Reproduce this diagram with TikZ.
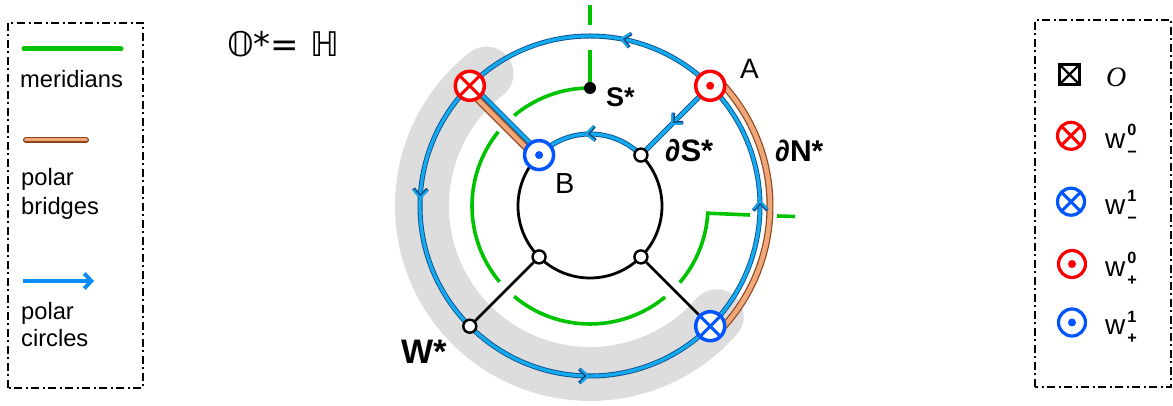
\documentclass[tikz,border=0pt]{standalone}
\usepackage{fontspec}
\setmainfont{Liberation Sans}
\newfontfamily\djv{DejaVu Sans}
\newfontfamily\lserif{Liberation Serif}
\usetikzlibrary{arrows.meta,decorations.markings}
\pgfdeclarelayer{back}
\pgfdeclarelayer{bg}
\pgfsetlayers{back,bg,main}
\definecolor{pcblue}{RGB}{20,170,240}
\definecolor{pcdark}{RGB}{15,75,135}
\definecolor{legblue}{RGB}{10,140,250}
\definecolor{mgreen}{RGB}{0,195,0}
\definecolor{brfill}{RGB}{240,168,120}
\definecolor{brdark}{RGB}{140,70,30}
\definecolor{nred}{RGB}{255,0,0}
\definecolor{nblue}{RGB}{0,85,255}
\definecolor{bandgray}{RGB}{221,221,221}
\newcommand\pctip{\arrow[pcdark,line width=3.6pt]{Straight Barb[length=8pt,width=14pt]}\arrow[pcblue,line width=2pt]{Straight Barb[length=8pt,width=14pt]}}
\newcommand\wlab[2]{w\kern2pt\rlap{\raisebox{12.7pt}{\fontsize{16.3}{16}\selectfont\bfseries #1}}\raisebox{-9pt}{\fontsize{16.3}{16}\selectfont\bfseries #2}}
\tikzset{
  pcout/.style={draw=pcdark, line width=5pt},
  pcin/.style={draw=pcblue, line width=3.3pt},
  pctips/.style={postaction={decorate, decoration={markings, mark=at position #1 with {\pctip}}}},
  brout/.style={draw=brdark, line width=7pt},
  brin/.style={draw=brfill, line width=4.6pt},
  merid/.style={draw=mgreen, line width=3.6pt},
  blk/.style={draw=black, line width=2.8pt},
  xsym/.style={circle, draw=#1, fill=white, line width=3.2pt, minimum size=27pt, inner sep=0pt,
    path picture={\draw[#1, line width=3pt]
      ([shift={(45:20pt)}]path picture bounding box.center) -- ([shift={(225:20pt)}]path picture bounding box.center)
      ([shift={(135:20pt)}]path picture bounding box.center) -- ([shift={(315:20pt)}]path picture bounding box.center);}},
  osym/.style={circle, draw=#1, fill=white, line width=3.2pt, minimum size=27pt, inner sep=0pt,
    path picture={\fill[#1] (path picture bounding box.center) circle[radius=4pt];}},
  big/.style={minimum size=29pt, line width=3.5pt},
  jn/.style={circle, draw=black, fill=white, line width=2.4pt, minimum size=13pt, inner sep=0pt},
  sdot/.style={circle, fill=black, minimum size=12pt, inner sep=0pt},
  boxx/.style={rectangle, draw=black, line width=2.6pt, minimum size=20.5pt, inner sep=0pt,
    path picture={\draw[line width=2.2pt] (path picture bounding box.north west) -- (path picture bounding box.south east)
      (path picture bounding box.north east) -- (path picture bounding box.south west);}},
  lbl/.style={font=\fontsize{23.7}{28.4}\selectfont, inner sep=0pt, align=left, anchor=north west},
  dlbl/.style={inner sep=0pt, anchor=base west},
  frame/.style={draw=black, line width=1.8pt, dash pattern=on 8pt off 3.5pt on 2pt off 3.5pt},
}
\begin{document}
\begin{tikzpicture}[x=1pt,y=1pt]
\useasboundingbox (0,0) rectangle (1173,406);
% ---------------- left legend
\draw[frame] (8,18) rectangle (143,383);
\coordinate (lg1) at (24,357); \coordinate (lg2) at (121,357);
\draw[mgreen, line width=5pt, line cap=round] (lg1) -- (lg2);
\node[lbl] (tmer) at (20,336) {meridians};
\coordinate (lb1) at (26,266.3); \coordinate (lb2) at (86,266.3);
\draw[draw=brdark, line width=6pt, line cap=round] (lb1) -- (lb2);
\draw[draw=brfill, line width=3.6pt, line cap=round] (lb1) -- (lb2);
\node[lbl] (tbr) at (21,237.7) {polar\\bridges};
\coordinate (la1) at (23,125); \coordinate (la2) at (94,125);
\draw[legblue, line width=4pt, -{Straight Barb[length=7pt,width=15pt]}] (la1) -- (la2);
\node[lbl] (tci) at (21,104) {polar\\[-1.7pt]circles};
% ---------------- formula
\node[inner sep=0pt] (eq) at (283,362) {\djv\fontsize{34}{36}\selectfont 𝕆*= ℍ};
% ---------------- right legend
\draw[frame] (1035,19) rectangle (1171,386);
\node[boxx] (lO) at (1069.5,331.5) {};
\node[dlbl] (tO) at (1106,319.5) {\lserif\itshape\fontsize{28}{30}\selectfont O};
\node[xsym=nred] (lwm0) at (1071,270.2) {};
\node[dlbl, font=\fontsize{28}{30}\selectfont] (twm0) at (1105,257.7) {\wlab{0}{−}};
\node[xsym=nblue] (lwm1) at (1071,204.3) {};
\node[dlbl, font=\fontsize{28}{30}\selectfont] (twm1) at (1105,191.8) {\wlab{1}{−}};
\node[osym=nred] (lwp0) at (1072,142) {};
\node[dlbl, font=\fontsize{28}{30}\selectfont] (twp0) at (1105,129.5) {\wlab{0}{+}};
\node[osym=nblue] (lwp1) at (1072,83.5) {};
\node[dlbl, font=\fontsize{28}{30}\selectfont] (twp1) at (1105,71) {\wlab{1}{+}};
% ---------------- main diagram
\begin{scope}[shift={(590,200)}]
  \coordinate (O) at (0,0);
  \node[xsym=nred, big] (Wm0) at (135:170) {};
  \node[osym=nred, big] (A) at (45:170) {};
  \node[xsym=nblue, big] (Wm1) at (315:170) {};
  \node[osym=nblue, big] (B) at (135:72) {};
  \node[jn] (dS) at (45:72) {};
  \node[jn] (J3) at (225:72) {};
  \node[jn] (J4) at (315:72) {};
  \node[jn] (W) at (225:170) {};
  \node[sdot] (S) at (90:118) {};
  \coordinate (gt1) at (0,156); \coordinate (gt2) at (0,181); \coordinate (gt3) at (0,201);
  \coordinate (gr1) at (160,-9); \coordinate (gr2) at (187,-10); \coordinate (gr3) at (205,-10.5);
  \begin{pgfonlayer}{back}
    \draw[draw=bandgray, line width=54pt, line cap=round] (128:168) arc[start angle=128, end angle=319, radius=168];
  \end{pgfonlayer}
  \begin{pgfonlayer}{bg}
    % meridians
    \draw[merid] (S.center) -- (gt1);
    \draw[merid] (gt2) -- (gt3);
    \draw[merid] (90:118) arc[start angle=90, end angle=130, radius=118];
    \draw[merid] (141:118) arc[start angle=141, end angle=220, radius=118];
    \draw[merid] (230:118) arc[start angle=230, end angle=309.5, radius=118];
    \draw[merid] (319.5:118) arc[start angle=319.5, end angle=356.5, radius=118] -- (gr1);
    \draw[merid] (gr2) -- (gr3);
    % polar bridges
    \draw[brout] ([shift={(-2.8,-2.8)}]Wm0.center) -- ([shift={(-2.8,-2.8)}]B.center);
    \draw[brin] ([shift={(-2.8,-2.8)}]Wm0.center) -- ([shift={(-2.8,-2.8)}]B.center);
    \draw[brout] (44:180) arc[start angle=44, end angle=-44, radius=180];
    \draw[brin] (44:180) arc[start angle=44, end angle=-44, radius=180];
    % black
    \draw[blk] (135:72) arc[start angle=135, end angle=405, radius=72];
    \draw[blk] (J3) -- (W);
    \draw[blk] (J4) -- (Wm1);
    % polar circles
    \draw[pcout] (O) circle[radius=170];
    \draw[pcin, pctips=0.131, pctips=0.347, pctips=0.619, pctips=0.875] (-45:170) arc[start angle=-45, end angle=315, radius=170];
    \draw[pcout] (dS.center) arc[start angle=45, end angle=135, radius=72];
    \draw[pcin, pctips=0.55] (dS.center) arc[start angle=45, end angle=135, radius=72];
    \draw[pcout] (A.center) -- (dS.center);
    \draw[pcin, pctips=0.57] (A.center) -- (dS.center);
    \draw[pcout] ([shift={(1.6,1.6)}]Wm0.center) -- ([shift={(1.6,1.6)}]B.center);
    \draw[pcin] ([shift={(1.6,1.6)}]Wm0.center) -- ([shift={(1.6,1.6)}]B.center);
  \end{pgfonlayer}
\end{scope}
% labels
\node[dlbl, font=\fontsize{27}{30}\selectfont\bfseries] (tS) at (606,299) {S*};
\node[dlbl, font=\fontsize{31}{34}\selectfont\bfseries] (tdS) at (665,244.3) {∂S*};
\node[dlbl, font=\fontsize{30}{33}\selectfont\bfseries] (tdN) at (775,244.3) {∂N*};
\node[dlbl, font=\fontsize{28}{30}\selectfont] (tA) at (740,327.7) {A};
\node[dlbl, font=\fontsize{29}{31}\selectfont] (tB) at (555,212.7) {B};
\node[dlbl, font=\fontsize{34}{36}\selectfont\bfseries] (tW) at (401,42.7) {W*};
\end{tikzpicture}
\end{document}
